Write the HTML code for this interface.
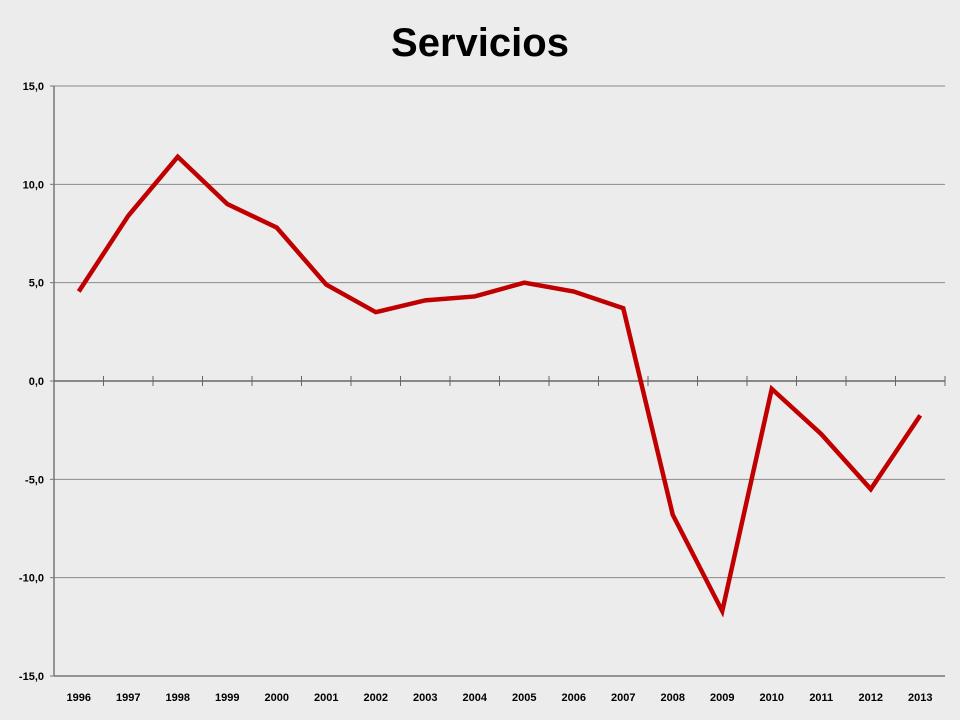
<!DOCTYPE html>
<html><head><meta charset="utf-8"><style>
body{margin:0;background:#ececec;}
svg{display:block;font-family:"Liberation Sans",sans-serif;}
</style></head><body>
<svg id="c" width="960" height="720">
<rect width="960" height="720" fill="#ececec"/>
<text x="480" y="56" text-anchor="middle" font-size="40" font-weight="bold" fill="#000">Servicios</text>
<g id="grid"></g><g id="axes"></g><g id="series"></g>
</svg>
<script>
const categories=["1996","1997","1998","1999","2000","2001","2002","2003","2004","2005","2006","2007","2008","2009","2010","2011","2012","2013"];
const values=[4.55,8.4,11.4,9.0,7.8,4.9,3.5,4.1,4.3,5.0,4.55,3.7,-6.8,-11.7,-0.4,-2.7,-5.5,-1.75];
const yTicks=[15,10,5,0,-5,-10,-15];
const yTickLabels=["15,0","10,0","5,0","0,0","-5,0","-10,0","-15,0"];
const NS="http://www.w3.org/2000/svg";
const L=54,R=945,T=86,B=676;
const y=v=>T+(15-v)/30*(B-T);
const bw=(R-L)/categories.length;
const x=i=>L+bw*(i+0.5);
function mk(tag,attrs,parent){const e=document.createElementNS(NS,tag);for(const k in attrs)e.setAttribute(k,attrs[k]);parent.appendChild(e);return e;}
const grid=document.getElementById('grid'),axes=document.getElementById('axes'),series=document.getElementById('series');
yTicks.forEach((v,i)=>{
 if(v!==0&&v!==-15){const g=mk('line',{x1:L,x2:R,y1:y(v),y2:y(v),stroke:'#8a8a8a','stroke-width':1},grid);
 
 }
 const tk=mk('line',{x1:L-4,x2:L,y1:y(v),y2:y(v),stroke:'#777'},axes);
 
 
 const t=mk('text',{x:L-10,y:y(v)+4,'text-anchor':'end','font-size':11,'font-weight':'bold'},axes);
 t.textContent=yTickLabels[i];
 
 
});
const ya=mk('line',{x1:L,x2:L,y1:T,y2:B,stroke:'#777','stroke-width':1.5},axes);


const xb=mk('line',{x1:L,x2:R,y1:B,y2:B,stroke:'#777','stroke-width':1.5},axes);


const xa=mk('line',{x1:L,x2:R,y1:y(0),y2:y(0),stroke:'#666','stroke-width':1.5},axes);


categories.forEach((c,i)=>{
 const tk=mk('line',{x1:L+bw*(i+1),x2:L+bw*(i+1),y1:y(0)-5,y2:y(0)+5,stroke:'#666'},axes);
 
 
 const t=mk('text',{x:x(i),y:B+25,'text-anchor':'middle','font-size':11,'font-weight':'bold'},axes);
 t.textContent=c;
 
 
});
const p=mk('polyline',{points:values.map((v,i)=>x(i)+','+y(v)).join(' '),fill:'none',stroke:'#c00000','stroke-width':4.5,'stroke-linejoin':'miter'},series);


</script>
</body></html>
